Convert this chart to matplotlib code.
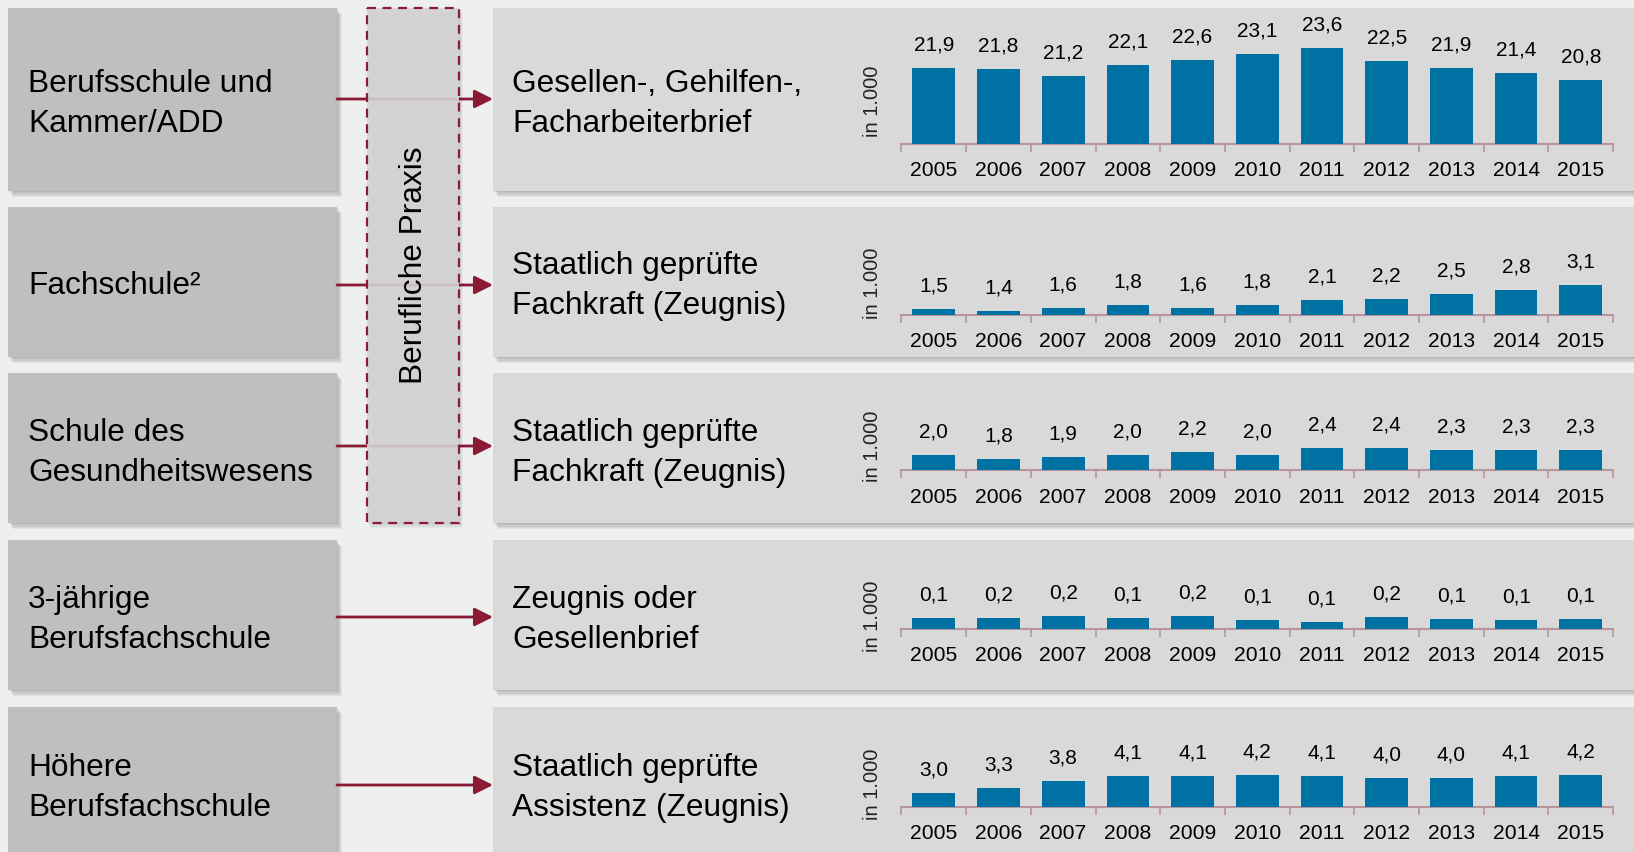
import numpy as np
import matplotlib
matplotlib.use("Agg")
import matplotlib.pyplot as plt
from matplotlib.patches import Rectangle

plt.rcParams["font.family"] = ["Liberation Sans", "DejaVu Sans"]

# data (in 1.000)
years = ["2005", "2006", "2007", "2008", "2009", "2010", "2011", "2012", "2013", "2014", "2015"]
gesellenbrief = [21.9, 21.8, 21.2, 22.1, 22.6, 23.1, 23.6, 22.5, 21.9, 21.4, 20.8]
fachschule = [1.5, 1.4, 1.6, 1.8, 1.6, 1.8, 2.1, 2.2, 2.5, 2.8, 3.1]
gesundheit = [2.0, 1.8, 1.9, 2.0, 2.2, 2.0, 2.4, 2.4, 2.3, 2.3, 2.3]
berufsfach_3j = [0.147, 0.152, 0.167, 0.148, 0.17, 0.133, 0.113, 0.157, 0.14, 0.13, 0.137]
hoehere_bfs = [3.0, 3.3, 3.8, 4.1, 4.1, 4.2, 4.1, 4.0, 4.0, 4.1, 4.2]

left_labels = ["Berufsschule und\nKammer/ADD", "Fachschule²", "Schule des\nGesundheitswesens",
               "3-jährige\nBerufsfachschule", "Höhere\nBerufsfachschule"]
right_labels = ["Gesellen-, Gehilfen-,\nFacharbeiterbrief", "Staatlich geprüfte\nFachkraft (Zeugnis)",
                "Staatlich geprüfte\nFachkraft (Zeugnis)", "Zeugnis oder\nGesellenbrief",
                "Staatlich geprüfte\nAssistenz (Zeugnis)"]
series = [gesellenbrief, fachschule, gesundheit, berufsfach_3j, hoehere_bfs]

W, H = 1634, 852
BG = "#EEF0EF"
RED = "#8B1A35"
BLUE = "#0071A3"
AXC = "#B8949C"

# layout in pixels (top, bottom of each row, text centre, arrow y)
row_top = [8, 207, 373, 540, 707]
row_bot = [191, 357, 523, 690, 870]
text_y = [104, 286, 453, 620, 788]
arrow_y = [99, 285, 446, 617, 785]
# chart axis line y, px per unit, axis baseline value
axis_y = [144, 315, 470.5, 629, 807]
px_per_unit = [11.4, 14.8, 17.8, 100, 15]
base_val = [15.2, 1.1, 1.15, 0.04, 2.05]
unit_y = [101, 283, 446, 616, 784]

fig = plt.figure(figsize=(W / 100, H / 100), dpi=100, facecolor=BG)
bg = fig.add_axes([0, 0, 1, 1])
bg.set_xlim(0, W)
bg.set_ylim(H, 0)
bg.axis("off")
bg.set_facecolor(BG)


def box(x, y, w, h, color):
    # soft drop shadow
    for k in range(1, 6):
        bg.add_patch(Rectangle((x + k, y + k * 1.2), w, h, fc="#000000", alpha=0.05, lw=0, zorder=1))
    bg.add_patch(Rectangle((x, y), w, h, fc=color, lw=0, zorder=2))


for i in range(5):
    h = row_bot[i] - row_top[i]
    box(8, row_top[i], 329, h, "#BFBFBF")
    box(493, row_top[i], 1160, h, "#D9D9D9")
    bg.text(28, text_y[i], left_labels[i], fontsize=22.8, va="center", ha="left", linespacing=1.4, zorder=5)
    bg.text(512, text_y[i], right_labels[i], fontsize=22.8, va="center", ha="left", linespacing=1.4, zorder=5)
    bg.annotate("", xy=(493, arrow_y[i]), xytext=(337, arrow_y[i]),
                arrowprops=dict(arrowstyle="-|>", color=RED, lw=2, mutation_scale=28,
                                shrinkA=0, shrinkB=0), zorder=3)
    bg.text(873, unit_y[i], "in 1.000", rotation=90, fontsize=14.5, va="center", ha="center",
            color="#222222", zorder=5)

# Berufliche Praxis box
for k in range(1, 5):
    bg.add_patch(Rectangle((367 + k, 8 + k * 1.2), 92, 515, fc="#000000", alpha=0.04, lw=0, zorder=3))
bg.add_patch(Rectangle((367, 8), 92, 515, fc=(0.83, 0.83, 0.83, 0.9), ec=RED, lw=1.6,
                       ls=(0, (4, 3)), zorder=4))
bg.text(414, 265, "Berufliche Praxis", rotation=90, fontsize=22.8, va="center", ha="center", zorder=5)

# bar charts
x_left, x_right = 901.4, 1613.2
ax_h = 100
x = np.arange(len(years))
for i, vals in enumerate(series):
    ax = fig.add_axes([x_left / W, 1 - axis_y[i] / H, (x_right - x_left) / W, ax_h / H])
    ax.set_facecolor("none")
    ax.bar(x, vals, width=0.66, color=BLUE, zorder=3)
    ax.set_xlim(-0.5, 10.5)
    ax.set_ylim(base_val[i], base_val[i] + ax_h / px_per_unit[i])
    for xi, v in zip(x, vals):
        ax.annotate(f"{v:.1f}".replace(".", ","), (xi, v), xytext=(0, 16.5),
                    textcoords="offset points", ha="center", va="center", fontsize=15)
    for s in ["top", "left", "right"]:
        ax.spines[s].set_visible(False)
    ax.spines["bottom"].set_color(AXC)
    ax.spines["bottom"].set_linewidth(1.5)
    ax.set_yticks([])
    ax.set_xticks(x)
    ax.set_xticklabels(years)
    ax.set_xticks(np.arange(-0.5, 11, 1), minor=True)
    ax.tick_params(axis="x", which="major", length=0, pad=12.5, labelsize=15.2)
    ax.tick_params(axis="x", which="minor", length=6, width=1.2, color=AXC)

fig.savefig("out.png", dpi=100, facecolor=BG)
